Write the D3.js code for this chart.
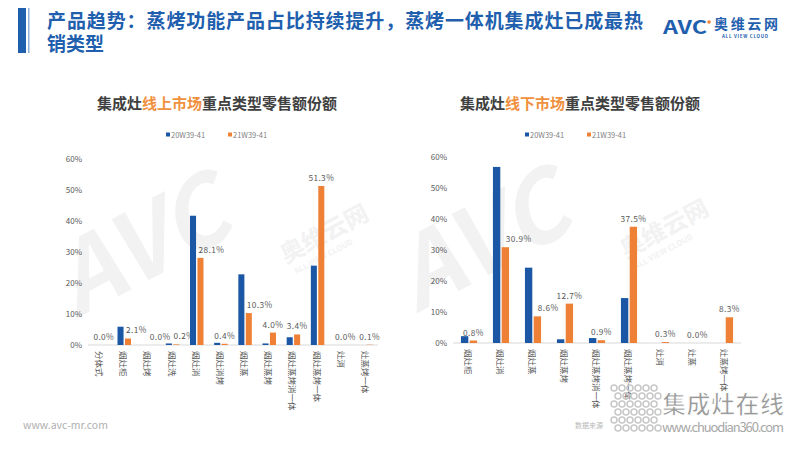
<!DOCTYPE html>
<html>
<head>
<meta charset="utf-8">
<script src="https://cdn.jsdelivr.net/npm/d3@7"></script>
<style>
  body { margin: 0; background: #fff; }
  text { font-family: "Noto Sans CJK SC", "Noto Sans", sans-serif; }
</style>
</head>
<body>
<div id="chart-area"></div>
<script>
// data (percent)
var seriesNames = ["20W39-41", "21W39-41"];
var yTicks = [0, 10, 20, 30, 40, 50, 60];

var onlineCats = ["分体式", "烟灶柜", "烟灶烤", "烟灶洗", "烟灶消", "烟灶消烤", "烟灶蒸", "烟灶蒸烤", "烟灶蒸烤消一体", "烟灶蒸烤一体", "灶消", "灶蒸烤一体"];
var online20 = [0.0, 5.9, 0.0, 0.5, 41.7, 0.7, 22.8, 0.5, 2.5, 25.6, 0.0, 0.0];
var online21 = [0.0, 2.1, 0.0, 0.2, 28.1, 0.4, 10.3, 4.0, 3.4, 51.3, 0.0, 0.1];

var offlineCats = ["烟灶柜", "烟灶消", "烟灶蒸", "烟灶蒸烤", "烟灶蒸烤消一体", "烟灶蒸烤一体", "灶消", "灶蒸", "灶蒸烤一体"];
var offline20 = [2.2, 56.8, 24.3, 1.2, 1.6, 14.5, 0.0, 0.0, 0.0];
var offline21 = [0.8, 30.9, 8.6, 12.7, 0.9, 37.5, 0.3, 0.0, 8.3];

var blue = "#1c57a5",
    orange = "#ee8136",
    grey = "#595959";

var width = 800, height = 450;

var svg = d3.select("#chart-area")
    .append("svg")
        .attr("width", width)
        .attr("height", height);

// watermarks
function watermark(cx, cy) {
    var w = svg.append("g")
        .attr("transform", "translate(" + cx + "," + cy + ") rotate(-28)")
        .attr("fill", "#f2f2f2");
    w.append("text")
        .attr("x", -60).attr("y", 0)
        .attr("font-size", "96px")
        .attr("font-weight", "bold")
        .attr("font-style", "italic")
        .attr("font-family", "DejaVu Sans")
        .text("AVC");
    w.append("text")
        .attr("x", 150).attr("y", 50)
        .attr("font-size", "24px")
        .attr("font-weight", "bold")
        .text("奥维云网");
    w.append("text")
        .attr("x", 154).attr("y", 64)
        .attr("font-size", "8px")
        .attr("font-weight", "bold")
        .text("ALL VIEW CLOUD");
}
watermark(130, 290);
watermark(470, 285);

// header
svg.append("rect")
    .attr("x", 18).attr("y", 8)
    .attr("width", 8).attr("height", 45)
    .attr("fill", "#1f5fae");
svg.append("rect")
    .attr("x", 28).attr("y", 8)
    .attr("width", 1.5).attr("height", 45)
    .attr("fill", "#8fb0d8");

var title = svg.append("text")
    .attr("fill", "#1f5fae")
    .attr("font-size", "19px")
    .attr("font-weight", "bold");
title.append("tspan").attr("x", 47).attr("y", 28)
    .attr("textLength", 596)
    .text("产品趋势：蒸烤功能产品占比持续提升，蒸烤一体机集成灶已成最热");
title.append("tspan").attr("x", 47).attr("y", 51)
    .text("销类型");

// AVC logo
svg.append("text")
    .attr("x", 663).attr("y", 34)
    .attr("font-family", "DejaVu Sans")
    .attr("font-size", "18px")
    .attr("font-weight", "bold")
    .attr("fill", "#1f5fae")
    .attr("textLength", 44)
    .attr("lengthAdjust", "spacingAndGlyphs")
    .text("AVC");
svg.append("circle")
    .attr("cx", 709).attr("cy", 22).attr("r", 1.8)
    .attr("fill", orange);
svg.append("text")
    .attr("x", 714).attr("y", 29)
    .attr("font-size", "14px")
    .attr("font-weight", "bold")
    .attr("fill", "#1f5fae")
    .attr("textLength", 64)
    .text("奥维云网");
svg.append("text")
    .attr("x", 722).attr("y", 38)
    .attr("font-size", "4.5px")
    .attr("font-weight", "bold")
    .attr("fill", "#1f5fae")
    .attr("textLength", 46)
    .text("ALL VIEW CLOUD");

function panel(cfg) {
    var g = svg.append("g");

    var x = d3.scaleBand()
        .domain(cfg.cats)
        .range([cfg.left, cfg.right]);

    var y = d3.scaleLinear()
        .domain([0, 60])
        .range([cfg.bottom, cfg.top]);

    var bw = x.bandwidth() * cfg.barRatio,
        gap = 1.4;

    // chart title
    var t = g.append("text")
        .attr("x", cfg.titleX)
        .attr("y", 109)
        .attr("text-anchor", "middle")
        .attr("font-size", "15px")
        .attr("font-weight", "bold")
        .attr("fill", "#404040");
    t.append("tspan").text("集成灶");
    t.append("tspan").attr("fill", "#f0913f").text(cfg.highlight);
    t.append("tspan").text("重点类型零售额份额");

    // legend
    var colors = [blue, orange];
    seriesNames.forEach(function(name, i) {
        var lx = cfg.legendX + i * 62;
        g.append("rect")
            .attr("x", lx).attr("y", 132.5)
            .attr("width", 4).attr("height", 4)
            .attr("fill", colors[i]);
        g.append("text")
            .attr("x", lx + 5).attr("y", 137.5)
            .attr("font-size", "7.5px")
            .attr("fill", "#7f7f7f")
            .text(name);
    });

    // Y Axis
    var yAxisCall = d3.axisLeft(y)
        .tickValues(yTicks)
        .tickSize(0)
        .tickPadding(6)
        .tickFormat(function(d) { return d + "%"; });
    g.append("g")
        .attr("class", "y axis")
        .attr("transform", "translate(" + cfg.left + ",0)")
        .call(yAxisCall)
        .call(function(a) { a.select(".domain").remove(); })
        .selectAll("text")
            .attr("fill", grey)
            .attr("font-size", "8px")
            .attr("font-family", "Noto Sans");

    // baseline
    g.append("line")
        .attr("x1", cfg.left).attr("x2", cfg.right)
        .attr("y1", y(0)).attr("y2", y(0))
        .attr("stroke", "#d9d9d9")
        .attr("stroke-width", 1);

    // category labels
    cfg.cats.forEach(function(c) {
        var cx = x(c) + x.bandwidth() / 2;
        g.append("text")
            .attr("transform", "translate(" + cx + "," + (y(0) + 6) + ") rotate(90)")
            .attr("dominant-baseline", "central")
            .attr("font-size", "8.5px")
            .attr("fill", grey)
            .text(c);
    });

    // value labels for second series (drawn under the bars),
    // pushed right when they would hit the blue bar or the previous label
    var prevRight = -Infinity, prevY = 0;
    cfg.cats.forEach(function(c, i) {
        var v = cfg.s2[i],
            barLeft = x(c) + x.bandwidth() / 2 + gap / 2,
            cx = barLeft + bw / 2;
        var lbl = g.append("text")
            .attr("y", y(v) - 5)
            .attr("text-anchor", "middle")
            .attr("font-size", "8.3px")
            .attr("letter-spacing", "0.4px")
            .attr("fill", grey)
            .text(v.toFixed(1) + "%");
        var w = lbl.node().getComputedTextLength();
        var pos = cx;
        if (cfg.s1[i] > v + 1.5) pos = barLeft + cfg.shift + w / 2;
        if (pos - w / 2 < prevRight + 3 && Math.abs(y(v) - prevY) < 10) {
            pos = prevRight + 3 + w / 2;
        }
        lbl.attr("x", pos);
        prevRight = pos + w / 2;
        prevY = y(v);
    });

    // bars
    cfg.cats.forEach(function(c, i) {
        var cx = x(c) + x.bandwidth() / 2;
        g.append("rect")
            .attr("x", cx - gap / 2 - bw)
            .attr("y", y(cfg.s1[i]))
            .attr("width", bw)
            .attr("height", y(0) - y(cfg.s1[i]))
            .attr("fill", blue);
        g.append("rect")
            .attr("x", cx + gap / 2)
            .attr("y", y(cfg.s2[i]))
            .attr("width", bw)
            .attr("height", y(0) - y(cfg.s2[i]))
            .attr("fill", orange);
    });
}

panel({
    cats: onlineCats, s1: online20, s2: online21,
    left: 88, right: 378, top: 159, bottom: 345,
    barRatio: 0.25, shift: 1,
    titleX: 217, highlight: "线上市场", legendX: 166
});

panel({
    cats: offlineCats, s1: offline20, s2: offline21,
    left: 453, right: 741, top: 157, bottom: 343,
    barRatio: 0.23, shift: 4,
    titleX: 580, highlight: "线下市场", legendX: 525
});

// footer
svg.append("text")
    .attr("x", 23).attr("y", 429)
    .attr("font-size", "10.5px")
    .attr("font-family", "Open Sans")
    .attr("fill", "#b0b0b0")
    .text("www.avc-mr.com");

svg.append("text")
    .attr("x", 575).attr("y", 428)
    .attr("font-size", "7px")
    .attr("fill", "#b8b8b8")
    .text("数据来源");

// site stamp bottom right
var stamp = svg.append("g");
d3.range(6).forEach(function(r) {
    d3.range(6).forEach(function(c) {
        stamp.append("circle")
            .attr("cx", 614 + c * 8 + (r % 2) * 4)
            .attr("cy", 388 + r * 8)
            .attr("r", 3)
            .attr("fill", "none")
            .attr("stroke", "#c8c8c8")
            .attr("stroke-width", 1.5);
    });
});
stamp.append("text")
    .attr("x", 662).attr("y", 413)
    .attr("font-size", "24px")
    .attr("font-weight", "bold")
    .attr("fill", "#9a9a9a")
    .attr("stroke", "#fff")
    .attr("stroke-width", 1)
    .attr("textLength", 122)
    .text("集成灶在线");
stamp.append("text")
    .attr("x", 662).attr("y", 432)
    .attr("font-size", "13px")
    .attr("fill", "#a8a8a8")
    .attr("textLength", 122)
    .text("www.chuodian360.com");
</script>
</body>
</html>
